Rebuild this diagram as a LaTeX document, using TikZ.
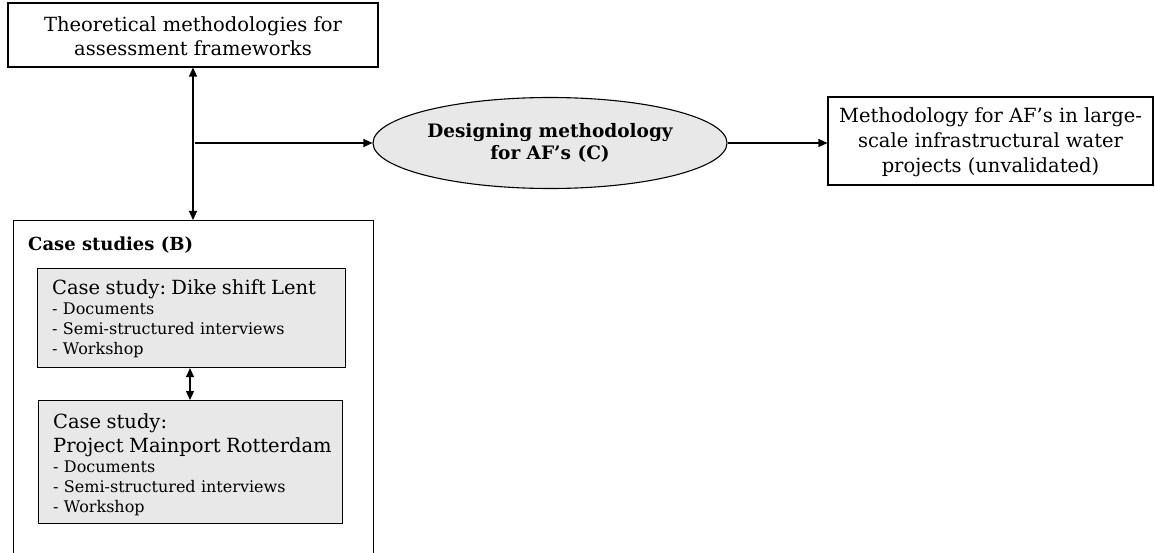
\documentclass[tikz,border=0pt]{standalone}
\usepackage{fontspec}
\setmainfont{DejaVu Serif}
\usetikzlibrary{shapes.geometric,arrows.meta}
\newcommand\casehead{\fontsize{19.5}{24}\selectfont}
\begin{document}
\frenchspacing
\begin{tikzpicture}[x=1pt,y=-1pt,
  every node/.style={inner sep=0pt},
  box/.style={draw, line width=1.1pt, align=center,
    font=\fontsize{19.5}{23.5}\selectfont},
  casebox/.style={draw, line width=1.1pt, fill=gray!18, anchor=north west},
  casetext/.style={anchor=base west, align=left, text width=290pt,
    font=\fontsize{16}{20}\selectfont},
  tip/.tip={Triangle[length=9pt,width=8pt]},
  link/.style={line width=1.1pt, -tip},
  both/.style={line width=1.1pt, tip-tip}]
\useasboundingbox (0,0) rectangle (1155,553);
\clip (0,0) rectangle (1155,553);

% top input box
\node[box, minimum width=370pt, minimum height=64pt] (theory) at (193,35)
  {\rule{0pt}{17pt}Theoretical methodologies for\\assessment frameworks};

% design step
\node[draw, ellipse, line width=1.1pt, fill=gray!18, minimum width=354pt,
  minimum height=91pt, align=center,
  font=\bfseries\fontsize{18.5}{22.5}\selectfont] (design) at (550,143)
  {Designing methodology\\for AF's (C)};

% resulting methodology
\node[box, minimum width=325pt, minimum height=88pt,
  font=\fontsize{19.5}{25}\selectfont] (result) at (990.5,141)
  {\rule{0pt}{17pt}Methodology for AF's in large-\\scale infrastructural water\\projects (unvalidated)};

% case studies container
\node[draw, line width=1.1pt, anchor=north west, minimum width=360pt,
  minimum height=380pt] (cases) at (13,220) {};
\node[anchor=base west, font=\bfseries\fontsize{18}{20}\selectfont] (caseslabel)
  at (28,251) {Case studies (B)};

% first case study
\node[casebox, minimum width=308pt, minimum height=99pt] (lent) at (37,268) {};
\node[casetext] (lenttext) at (52,294)
  {{\casehead Case study: Dike shift Lent}\\[0.5pt]
   - Documents\\
   - Semi-structured interviews\\
   - Workshop};

% second case study
\node[casebox, minimum width=304pt, minimum height=123pt] (mainport) at (38,400) {};
\node[casetext] (mainporttext) at (53,428)
  {{\casehead Case study:}\\[4pt]
   {\casehead Project Mainport Rotterdam}\\[0.5pt]
   - Documents\\
   - Semi-structured interviews\\
   - Workshop};

% connectors
\draw[both] (theory.south) -- (cases.north -| theory.south);
\coordinate (branch) at (195,143);
\draw[link] (branch) -- (design.west);
\draw[link] (design.east) -- (design.east -| result.west);
\coordinate (pair) at (190,0);
\draw[both] (lent.south -| pair) -- (mainport.north -| pair);
\end{tikzpicture}
\end{document}
